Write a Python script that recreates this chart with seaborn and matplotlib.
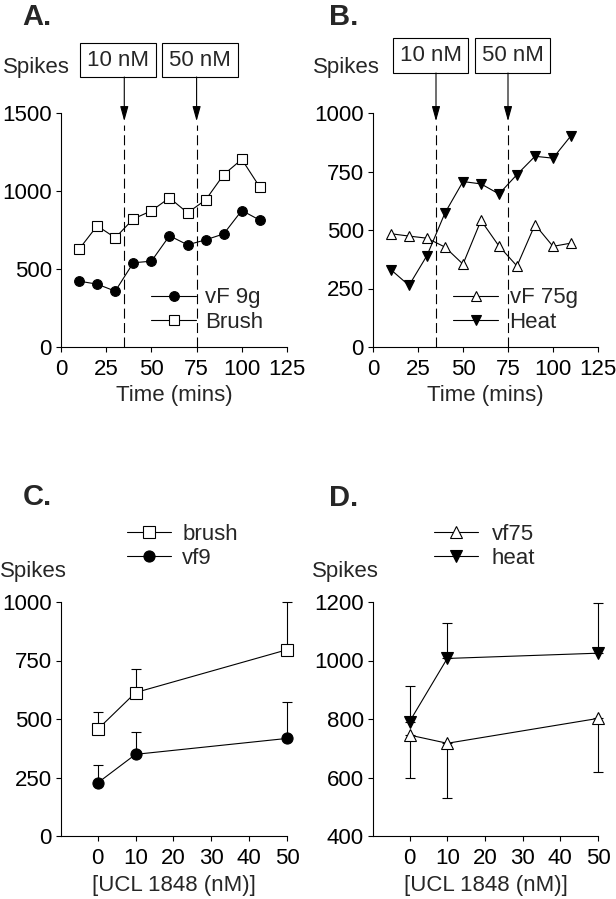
import numpy as np
import matplotlib
matplotlib.use("Agg")
import matplotlib.pyplot as plt
from matplotlib.patches import Rectangle
import seaborn as sns

# time course data (panels A and B)
time = [10, 20, 30, 40, 50, 60, 70, 80, 90, 100, 110]
vf9 = [422, 403, 358, 540, 550, 713, 655, 687, 725, 875, 813]
brush = [627, 777, 700, 821, 873, 956, 860, 943, 1105, 1203, 1024]
vf75 = [484, 474, 465, 427, 354, 541, 431, 346, 523, 430, 444]
heat = [330, 263, 391, 573, 707, 697, 654, 737, 815, 807, 903]

# dose response data (panels C and D)
dose = [0, 10, 50]
brush_mean = [456, 613, 796]
brush_sem = [75, 100, 204]
vf9_mean = [227, 349, 417]
vf9_sem = [76, 97, 157]
vf75_mean = [745, 717, 802]
vf75_sem = [145, 187, 184]
heat_mean = [791, 1007, 1025]
heat_sem = [122, 120, 170]

drug_times = [35, 75]
drug_labels = ["10 nM", "50 nM"]

sns.set_style("ticks")
plt.rcParams['font.family'] = ['Liberation Sans', 'DejaVu Sans']
plt.rcParams['axes.linewidth'] = 0.8
plt.rcParams['xtick.major.width'] = 0.8
plt.rcParams['ytick.major.width'] = 0.8
plt.rcParams['xtick.major.size'] = 3.6
plt.rcParams['ytick.major.size'] = 3.6
plt.rcParams['xtick.major.pad'] = 5
plt.rcParams['ytick.major.pad'] = 3
plt.rcParams['xtick.color'] = 'black'
plt.rcParams['ytick.color'] = 'black'
plt.rcParams['axes.edgecolor'] = 'black'

FS = 16
W, H = 616, 899
fig = plt.figure(figsize=(W / 100, H / 100), dpi=100)


def px_axes(x0, y_top, x1, y_bot):
    return fig.add_axes([x0 / W, 1 - y_bot / H, (x1 - x0) / W, (y_bot - y_top) / H])


axA = px_axes(61, 113, 287, 347)
axB = px_axes(373, 113, 598, 347)
axC = px_axes(61, 602, 287, 836)
axD = px_axes(373, 602, 598, 836)

line_kw = dict(color='black', lw=0.8, markeredgecolor='black', markeredgewidth=0.8)
err_kw = dict(fmt='none', ecolor='black', elinewidth=0.8, capsize=3.5, capthick=0.8,
              zorder=2, clip_on=False)


def series(ax, x, y, marker, filled, label, ms=7.5):
    sns.lineplot(x=x, y=y, ax=ax, marker=marker, markersize=ms,
                 markerfacecolor='black' if filled else 'white',
                 label=label, zorder=3, clip_on=False, **line_kw)


leg_kw = dict(loc='upper left', frameon=False, fontsize=FS, labelspacing=0.15,
              borderpad=0, borderaxespad=0)

# Panel A
series(axA, time, vf9, 'o', True, 'vF 9g', ms=7)
series(axA, time, brush, 's', False, 'Brush', ms=7)
axA.set_xlim(0, 125)
axA.set_ylim(0, 1500)
axA.set_xticks([0, 25, 50, 75, 100, 125])
axA.set_yticks([0, 500, 1000, 1500])
axA.set_xlabel('Time (mins)', fontsize=FS, labelpad=4)
axA.legend(bbox_to_anchor=(0.40, 0.255), handlelength=2.0, handletextpad=0.4, **leg_kw)

# Panel B
series(axB, time, vf75, '^', False, 'vF 75g', ms=7)
series(axB, time, heat, 'v', True, 'Heat', ms=7.5)
axB.set_xlim(0, 125)
axB.set_ylim(0, 1000)
axB.set_xticks([0, 25, 50, 75, 100, 125])
axB.set_yticks([0, 250, 500, 750, 1000])
axB.set_xlabel('Time (mins)', fontsize=FS, labelpad=4)
axB.legend(bbox_to_anchor=(0.355, 0.255), handlelength=2.05, handletextpad=0.5, **leg_kw)

# drug application markers on A and B
box_px = {axA: (43, 77, [(80, 156), (162, 238)]),
          axB: (38, 73, [(393, 468), (475, 550)])}
for ax in (axA, axB):
    top, bot, spans = box_px[ax]
    for t, lab, (bx0, bx1) in zip(drug_times, drug_labels, spans):
        ax.axvline(t, ymin=0, ymax=0.95, color='black', lw=0.8,
                   linestyle=(0, (9, 4)), zorder=1)
        ax.annotate('', xy=(t, 0.965), xycoords=('data', 'axes fraction'),
                    xytext=(t, (347 - bot) / 234), textcoords=('data', 'axes fraction'),
                    arrowprops=dict(arrowstyle='-|>,head_length=0.9,head_width=0.25',
                                    mutation_scale=10, lw=0.8, color='black',
                                    shrinkA=0, shrinkB=0),
                    annotation_clip=False)
        fig.add_artist(Rectangle((bx0 / W, 1 - bot / H), (bx1 - bx0) / W, (bot - top) / H,
                                 transform=fig.transFigure, fill=False,
                                 edgecolor='black', lw=0.8))
        fig.text((bx0 + bx1) / 2 / W, 1 - (top + bot) / 2 / H, lab,
                 ha='center', va='center', fontsize=FS)

# Panel C
axC.errorbar(dose, brush_mean, yerr=[[0, 0, 0], brush_sem], **err_kw)
axC.errorbar(dose, vf9_mean, yerr=[[0, 0, 0], vf9_sem], **err_kw)
series(axC, dose, brush_mean, 's', False, 'brush', ms=8)
series(axC, dose, vf9_mean, 'o', True, 'vf9', ms=8)
axC.set_xlim(-9.7, 50)
axC.set_ylim(0, 1000)
axC.set_xticks([0, 10, 20, 30, 40, 50])
axC.set_yticks([0, 250, 500, 750, 1000])
axC.set_xlabel('[UCL 1848 (nM)]', fontsize=FS, labelpad=4)
axC.legend(bbox_to_anchor=(0.29, 1.335), handlelength=2.0, handletextpad=0.5, **leg_kw)

# Panel D
axD.errorbar(dose, heat_mean, yerr=[[0, 0, 0], heat_sem], **err_kw)
axD.errorbar(dose, vf75_mean, yerr=[vf75_sem, [0, 0, 0]], **err_kw)
series(axD, dose, vf75_mean, '^', False, 'vf75', ms=8)
series(axD, dose, heat_mean, 'v', True, 'heat', ms=8)
axD.set_xlim(-9.7, 50)
axD.set_ylim(400, 1200)
axD.set_xticks([0, 10, 20, 30, 40, 50])
axD.set_yticks([400, 600, 800, 1000, 1200])
axD.set_xlabel('[UCL 1848 (nM)]', fontsize=FS, labelpad=4)
axD.legend(bbox_to_anchor=(0.27, 1.335), handlelength=2.0, handletextpad=0.6, **leg_kw)

for ax in (axA, axB, axC, axD):
    sns.despine(ax=ax)
    ax.set_ylabel('')
    ax.tick_params(labelsize=FS, direction='out')
    ax.set_facecolor('white')

# panel letters and "Spikes" labels
for x, y, s in [(22, 17, 'A.'), (329, 17, 'B.'), (23, 497, 'C.'), (329, 498, 'D.')]:
    fig.text(x / W, 1 - y / H, s, ha='left', va='center', fontsize=21, fontweight='bold')
for x, y in [(3, 67), (313, 67), (0, 572), (312, 572)]:
    fig.text(x / W, 1 - y / H, 'Spikes', ha='left', va='center', fontsize=FS)

fig.savefig('out.png', dpi=100, facecolor='white')
